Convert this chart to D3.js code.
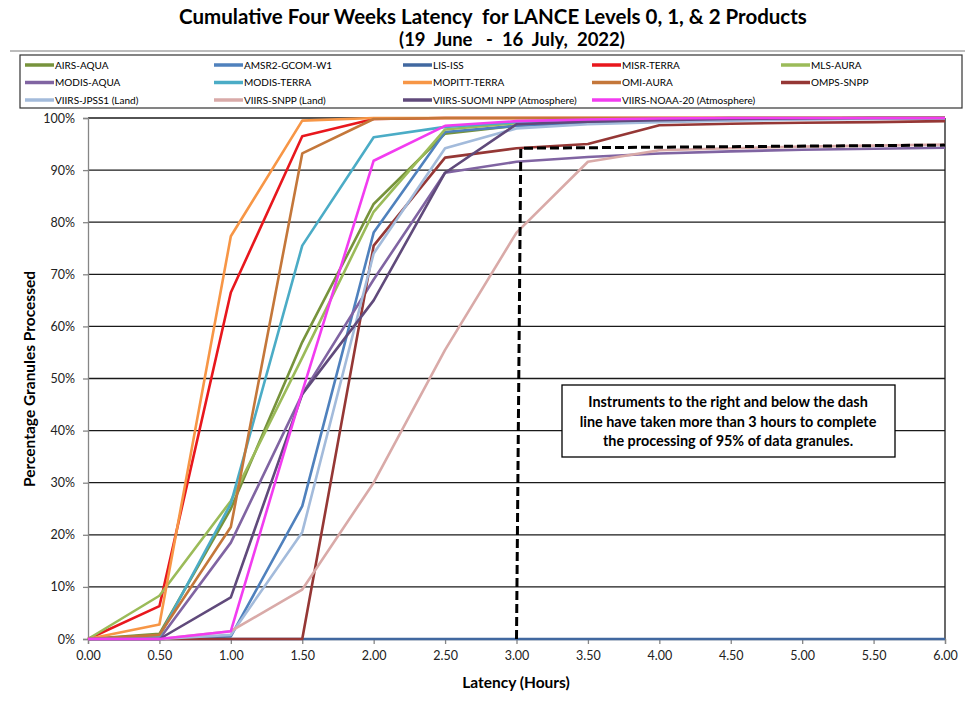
<!DOCTYPE html>
<html>
<head>
<meta charset="utf-8">
<script src="https://cdn.jsdelivr.net/npm/d3@7"></script>
<style>
  body { margin: 0; background: #fff; }
  text { font-family: Lato, "Open Sans", sans-serif; white-space: pre; }
</style>
</head>
<body>
<svg id="chart" width="972" height="703"></svg>
<script>
// latency in hours (x positions of every sample)
const hours = [0, 0.5, 1, 1.5, 2, 2.5, 3, 3.5, 4, 4.5, 5, 5.5, 6];

// cumulative percent of granules processed
const airsAqua     = [0, 1, 25, 57, 83.5, 97, 98.5, 99.3, 99.7, 99.8, 99.9, 100, 100];
const amsr2Gcom    = [0, 0, 0.5, 25.5, 78, 97.3, 98.5, 99, 99.5, 99.7, 99.8, 99.9, 100];
const lisIss       = [0, 0, 0, 0, 0, 0, 0, 0, 0, 0, 0, 0, 0];
const misrTerra    = [0, 6.3, 66.5, 96.5, 99.8, 100, 100, 100, 100, 100, 100, 100, 100];
const mlsAura      = [0, 8.3, 26.5, 54, 82, 97.8, 99, 99.5, 99.8, 100, 100, 100, 100];
const modisAqua    = [0, 0, 18.5, 47, 69, 89.5, 91.6, 92.5, 93.2, 93.6, 93.9, 94.1, 94.3];
const modisTerra   = [0, 0.5, 26, 75.5, 96.3, 98.3, 99.2, 99.6, 99.8, 100, 100, 100, 100];
const mopittTerra  = [0, 2.8, 77.3, 99.5, 100, 100, 100, 100, 100, 100, 100, 100, 100];
const omiAura      = [0, 0.8, 21.5, 93.2, 99.8, 100, 100, 100, 100, 100, 100, 100, 100];
const ompsSnpp     = [0, 0, 0, 0, 75.5, 92.4, 94.2, 95, 98.6, 98.9, 99.1, 99.2, 99.4];
const viirsJpss1   = [0, 0, 0.8, 20.5, 74, 94.2, 98, 98.8, 99.2, 99.5, 99.7, 99.8, 99.9];
const viirsSnppLnd = [0, 0, 1.5, 9.5, 30, 55.5, 78, 91.6, 93.8, 94.2, 94.5, 94.7, 94.9];
const viirsSuomi   = [0, 0, 8, 47, 65, 89.5, 98.8, 99.3, 99.6, 99.8, 99.9, 100, 100];
const viirsNoaa20  = [0, 0, 1.5, 47.5, 91.8, 98.5, 99.4, 99.7, 99.9, 100, 100, 100, 100];

const seriesNames = ["AIRS-AQUA", "AMSR2-GCOM-W1", "LIS-ISS", "MISR-TERRA", "MLS-AURA",
  "MODIS-AQUA", "MODIS-TERRA", "MOPITT-TERRA", "OMI-AURA", "OMPS-SNPP",
  "VIIRS-JPSS1 (Land)", "VIIRS-SNPP (Land)", "VIIRS-SUOMI NPP (Atmosphere)", "VIIRS-NOAA-20 (Atmosphere)"];
const seriesValues = [airsAqua, amsr2Gcom, lisIss, misrTerra, mlsAura, modisAqua, modisTerra,
  mopittTerra, omiAura, ompsSnpp, viirsJpss1, viirsSnppLnd, viirsSuomi, viirsNoaa20];
const seriesColors = ["#77933c", "#4f81bd", "#4168a0", "#e8171d", "#9bbb59", "#8064a2", "#4bacc6",
  "#f79646", "#c4773a", "#953735", "#a3bbdb", "#d9aaa8", "#604a7b", "#f23cf0"];

// the dashed threshold marker
const dashHours = [3.0, 3.03, 6.0];
const dashPct   = [0, 94.2, 94.8];

const xTicks = [0, 0.5, 1, 1.5, 2, 2.5, 3, 3.5, 4, 4.5, 5, 5.5, 6];
const yTicks = [0, 10, 20, 30, 40, 50, 60, 70, 80, 90, 100];

const noteLines = ["Instruments to the right and below the dash",
  "line have taken more than 3 hours to complete",
  "the processing of 95% of data granules."];

const svg = d3.select("#chart");
const plot = { left: 88, right: 945, top: 118, bottom: 639 };

const x = d3.scaleLinear().domain([0, 6]).range([plot.left, plot.right]);
const y = d3.scaleLinear().domain([0, 100]).range([plot.bottom, plot.top]);

// Title
svg.append("text").attr("x", 493).attr("y", 24).attr("text-anchor", "middle")
  .attr("font-size", 20.5).attr("font-weight", "bold").text("Cumulative Four Weeks Latency  for LANCE Levels 0, 1, & 2 Products");
svg.append("text").attr("x", 512).attr("y", 46).attr("text-anchor", "middle")
  .attr("font-size", 18.5).attr("font-weight", "bold").text("(19  June   -  16  July,  2022)");

// Legend
svg.append("line").attr("x1", 10).attr("x2", 965).attr("y1", 51).attr("y2", 51)
  .attr("stroke", "#a6a6a6").attr("stroke-width", 1.5);
svg.append("rect").attr("x", 20).attr("y", 55).attr("width", 942).attr("height", 53)
  .attr("fill", "none").attr("stroke", "#333").attr("stroke-width", 1.2);

const legend = svg.append("g").selectAll("g").data(seriesNames).join("g")
  .attr("transform", (d, i) => `translate(${25 + (i % 5) * 189},${65 + Math.floor(i / 5) * 17.5})`);
legend.append("line").attr("x1", 0).attr("x2", 29).attr("y1", 0).attr("y2", 0)
  .attr("stroke", (d, i) => seriesColors[i]).attr("stroke-width", 3.5);
legend.append("text").attr("x", 30).attr("y", 3.5).attr("font-size", 10).text(d => d);

// Gridlines
svg.append("g").selectAll("line").data(yTicks.filter(t => t > 0)).join("line")
  .attr("x1", plot.left).attr("x2", plot.right)
  .attr("y1", d => y(d)).attr("y2", d => y(d))
  .attr("stroke", "#1a1a1a").attr("stroke-width", 1.3);
svg.append("line").attr("x1", plot.right).attr("x2", plot.right)
  .attr("y1", plot.top).attr("y2", plot.bottom).attr("stroke", "#1a1a1a").attr("stroke-width", 1.3);

// Axes
const yAxis = svg.append("g").attr("transform", `translate(${plot.left},0)`)
  .call(d3.axisLeft(y).tickValues(yTicks).tickFormat(d => d + "%").tickSize(5).tickPadding(8));
const xAxis = svg.append("g").attr("transform", `translate(0,${plot.bottom})`)
  .call(d3.axisBottom(x).tickValues(xTicks).tickFormat(d3.format(".2f")).tickSize(5).tickPadding(7));
[yAxis, xAxis].forEach(a => {
  a.select(".domain").attr("stroke", "#868686").attr("stroke-width", 1.3);
  a.selectAll(".tick line").attr("stroke", "#868686").attr("stroke-width", 1.3);
  a.selectAll(".tick text").attr("font-size", 12.5).attr("fill", "#222")
    .style("font-family", "Lato, sans-serif");
});

// Axis titles
svg.append("text").attr("x", 516).attr("y", 688).attr("text-anchor", "middle")
  .attr("font-size", 15.5).attr("font-weight", "bold").text("Latency (Hours)");
svg.append("text").attr("transform", "translate(35,379) rotate(-90)").attr("text-anchor", "middle")
  .attr("font-size", 15.5).attr("font-weight", "bold").text("Percentage Granules Processed");

// Series lines
const line = d3.line().x(d => x(d[0])).y(d => y(d[1]));
svg.append("g").selectAll("path").data(seriesValues).join("path")
  .attr("d", vals => line(hours.map((h, i) => [h, vals[i]])))
  .attr("fill", "none")
  .attr("stroke", (d, i) => seriesColors[i])
  .attr("stroke-width", 2.6)
  .attr("stroke-linejoin", "round");

// Dashed marker
svg.append("path")
  .attr("d", line(dashHours.map((h, i) => [h, dashPct[i]])))
  .attr("fill", "none").attr("stroke", "#000").attr("stroke-width", 3)
  .attr("stroke-dasharray", "9,4");

// Note box
svg.append("rect").attr("x", 562).attr("y", 385).attr("width", 333).attr("height", 72)
  .attr("fill", "#fff").attr("stroke", "#000").attr("stroke-width", 1.3);
svg.append("g").selectAll("text").data(noteLines).join("text")
  .attr("x", 728).attr("y", (d, i) => 407 + i * 19.5).attr("text-anchor", "middle")
  .attr("font-size", 14.4).attr("font-weight", "bold").text(d => d);
</script>
</body>
</html>
